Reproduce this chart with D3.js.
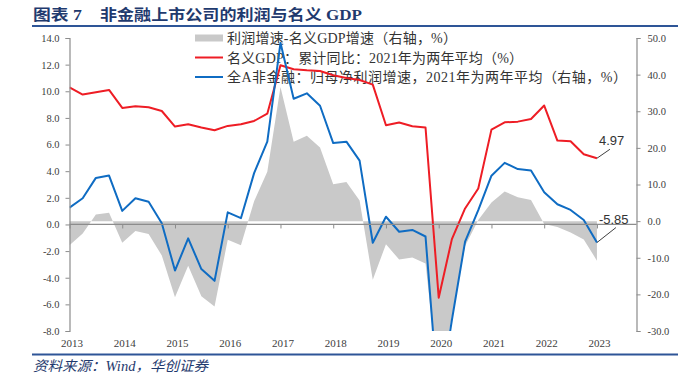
<!DOCTYPE html>
<html>
<head>
<meta charset="utf-8">
<script src="https://cdn.jsdelivr.net/npm/d3@7"></script>
<style>
  html, body { margin: 0; padding: 0; background: #fff; }
  svg { display: block; }
</style>
</head>
<body>
<svg id="chart" width="691" height="375"></svg>
<script>
// Years shown on the x axis (label at Q1 of each year)
const years = ['2013', '2014', '2015', '2016', '2017', '2018', '2019', '2020', '2021', '2022', '2023'];
const quarterNames = ['Q1', 'Q2', 'Q3', 'Q4'];

// Nominal GDP, cumulative YoY (%), left axis, 2013Q1..2023Q1
const nominalGdp = [
  10.30, 9.75, 9.92, 10.10, 8.75, 8.87, 8.80, 8.52, 7.35, 7.52,
  7.28, 7.07, 7.40, 7.52, 7.77, 8.32, 11.95, 11.65, 11.57, 11.52,
  11.20, 11.00, 10.85, 10.50, 7.45, 7.65, 7.37, 7.28, -5.50, -1.10,
  1.20, 2.70, 7.12, 7.67, 7.72, 7.92, 8.93, 6.30, 6.25, 5.27,
  4.97
];

// All-A non-financial net profit growth (%), right axis
const profitGrowth = [
  3.7, 6.25, 11.8, 12.45, 2.8, 6.25, 5.3, -0.6, -13.5, -4.7,
  -13.1, -16.3, 2.4, 0.8, 13.1, 21.7, 48.7, 33.4, 34.9, 31.5,
  21.3, 21.7, 16.5, -5.9, 1.2, -2.9, -2.4, -4.2, -50.0, -27.0,
  -5.6, 3.0, 12.4, 15.9, 14.2, 13.8, 7.9, 4.6, 3.05, 0.3,
  -5.85
];

// Profit growth minus nominal GDP growth (%), right axis, grey area
const spread = [
  -6.6, -3.4, 1.8, 2.3, -5.9, -2.7, -3.5, -9.4, -20.8, -12.2,
  -20.5, -23.3, -5.1, -6.6, 5.4, 13.5, 36.6, 21.7, 23.3, 20.1,
  10.1, 10.7, 5.6, -16.0, -6.3, -10.5, -9.9, -11.6, -44.5, -26.0,
  -6.8, 0.3, 5.1, 8.1, 6.5, 5.8, -0.8, -1.6, -3.1, -5.0,
  -10.8
];

const leftTicks = [-8, -6, -4, -2, 0, 2, 4, 6, 8, 10, 12, 14];
const rightTicks = [-30, -20, -10, 0, 10, 20, 30, 40, 50];

const legendLabels = [
  '利润增速-名义GDP增速（右轴，%）',
  '名义GDP：累计同比：2021年为两年平均（%）',
  '全A非金融：归母净利润增速，2021年为两年平均（右轴，%）'
];

// categories: every quarter of the axis, data covers the first 41
const quarters = [];
years.forEach(y => quarterNames.forEach(q => quarters.push(y + q)));

const serif = '"Liberation Serif", "Times New Roman", "Noto Sans CJK SC", serif';
const svg = d3.select('#chart');

const plot = { left: 69.5, right: 636.5, top: 38, bottom: 331 };

const x = d3.scalePoint().domain(quarters).range([plot.left, plot.right]);
const yLeft = d3.scaleLinear().domain([-8, 14]).range([plot.bottom, plot.top]);
const yRight = d3.scaleLinear().domain([-30, 50]).range([plot.bottom, plot.top]);

// plain hyphen for negatives, like the source chart
const fmt1 = d => d.toFixed(1);

const axisColor = '#8c8c8c';
const textColor = '#404040';
const navy = '#1f3a6e';

// Title and frame rules
svg.append('text')
  .attr('x', 33)
  .attr('y', 20)
  .attr('fill', navy)
  .style('font-family', serif)
  .style('font-weight', 'bold')
  .style('font-size', '15px')
  .attr('textLength', 49)
  .attr('lengthAdjust', 'spacingAndGlyphs')
  .text('图表 7');

svg.append('text')
  .attr('x', 100)
  .attr('y', 20)
  .attr('fill', navy)
  .style('font-family', serif)
  .style('font-weight', 'bold')
  .style('font-size', '15px')
  .attr('textLength', 262)
  .attr('lengthAdjust', 'spacingAndGlyphs')
  .text('非金融上市公司的利润与名义 GDP');

svg.append('line')
  .attr('x1', 32).attr('x2', 678)
  .attr('y1', 26).attr('y2', 26)
  .attr('stroke', '#2e5597')
  .attr('stroke-width', 2);

svg.append('line')
  .attr('x1', 32).attr('x2', 678)
  .attr('y1', 354.5).attr('y2', 354.5)
  .attr('stroke', '#2e5597')
  .attr('stroke-width', 2);

svg.append('text')
  .attr('x', 33)
  .attr('y', 371)
  .attr('fill', navy)
  .style('font-family', serif)
  .style('font-style', 'italic')
  .style('font-size', '14px')
  .attr('textLength', 175)
  .attr('lengthAdjust', 'spacingAndGlyphs')
  .text('资料来源：Wind，华创证券');

// Legend (drawn under the series, as in the reference)
const legend = svg.append('g');
const legendY = [38, 57.5, 77];
const legendLen = [230, 296, 400];

legend.append('rect')
  .attr('x', 195).attr('y', legendY[0] - 3.5)
  .attr('width', 28).attr('height', 7)
  .attr('fill', '#c9c9c9');
legend.append('line')
  .attr('x1', 195).attr('x2', 223)
  .attr('y1', legendY[1]).attr('y2', legendY[1])
  .attr('stroke', '#ee1d25').attr('stroke-width', 2);
legend.append('line')
  .attr('x1', 195).attr('x2', 223)
  .attr('y1', legendY[2]).attr('y2', legendY[2])
  .attr('stroke', '#0f6cc3').attr('stroke-width', 2);

legendLabels.forEach((label, i) => {
  legend.append('text')
    .attr('x', 227)
    .attr('y', legendY[i] + 5)
    .attr('fill', '#333')
    .style('font-family', serif)
    .style('font-size', '14px')
    .attr('textLength', legendLen[i])
    .attr('lengthAdjust', 'spacing')
    .text(label);
});

// Clip the series to the plot area
svg.append('defs')
  .append('clipPath')
  .attr('id', 'plot-clip')
  .append('rect')
  .attr('x', plot.left)
  .attr('y', plot.top)
  .attr('width', plot.right - plot.left)
  .attr('height', plot.bottom - plot.top);

const series = svg.append('g').attr('clip-path', 'url(#plot-clip)');

// Grey area: spread, from the right-axis zero
const area = d3.area()
  .x((d, i) => x(quarters[i]))
  .y0(yRight(0))
  .y1(d => yRight(d));

series.append('path')
  .datum(spread)
  .attr('d', area)
  .attr('fill', '#c9c9c9');

// Axes
const leftAxis = svg.append('g')
  .attr('transform', `translate(${plot.left},0)`)
  .call(d3.axisLeft(yLeft).tickValues(leftTicks).tickFormat(fmt1).tickSizeOuter(0).tickSize(4).tickPadding(6));

const rightAxis = svg.append('g')
  .attr('transform', `translate(${plot.right},0)`)
  .call(d3.axisRight(yRight).tickValues(rightTicks).tickFormat(fmt1).tickSizeOuter(0).tickSize(4).tickPadding(7));

// x axis line sits on the left-axis zero, labels at the bottom
const xAxis = svg.append('g')
  .attr('transform', `translate(0,${yLeft(0)})`)
  .call(d3.axisBottom(x)
    .tickValues(years.map(y => y + 'Q1'))
    .tickSize(4)
    .tickSizeOuter(0)
    .tickFormat(''));

xAxis.select('.domain').attr('d', `M${plot.left},0H${plot.right}`);

svg.append('g')
  .selectAll('text')
  .data(years)
  .join('text')
  .attr('x', d => x(d + 'Q1') + 2.5)
  .attr('y', 347)
  .attr('text-anchor', 'middle')
  .attr('fill', textColor)
  .style('font-family', serif)
  .style('font-size', '11px')
  .text(d => d);

[leftAxis, rightAxis, xAxis].forEach(g => {
  g.select('.domain').attr('stroke', axisColor).attr('stroke-width', 1.2);
  g.selectAll('.tick line').attr('stroke', axisColor);
  g.selectAll('.tick text')
    .attr('fill', textColor)
    .style('font-family', serif)
    .style('font-size', '10.5px');
});

// Lines
const dataIndex = nominalGdp.map((d, i) => i);

const redLine = d3.line()
  .x(i => x(quarters[i]))
  .y(i => yLeft(nominalGdp[i]));

const blueLine = d3.line()
  .x(i => x(quarters[i]))
  .y(i => yRight(profitGrowth[i]));

series.append('path')
  .datum(dataIndex)
  .attr('d', redLine)
  .attr('fill', 'none')
  .attr('stroke', '#ee1d25')
  .attr('stroke-width', 2)
  .attr('stroke-linejoin', 'round');

series.append('path')
  .datum(dataIndex)
  .attr('d', blueLine)
  .attr('fill', 'none')
  .attr('stroke', '#0f6cc3')
  .attr('stroke-width', 2)
  .attr('stroke-linejoin', 'round');

// Last value call-outs
const last = nominalGdp.length - 1;
const lx = x(quarters[last]);
const callouts = [
  { y: yLeft(nominalGdp[last]), value: nominalGdp[last], dx: 13, dy: -9 },
  { y: yRight(profitGrowth[last]), value: profitGrowth[last], dx: 19, dy: -15 }
];

callouts.forEach(c => {
  svg.append('line')
    .attr('x1', lx).attr('y1', c.y)
    .attr('x2', lx + c.dx).attr('y2', c.y + c.dy)
    .attr('stroke', '#404040')
    .attr('stroke-width', 1);

  svg.append('text')
    .attr('x', lx + 2)
    .attr('y', c.y + c.dy - 4)
    .attr('fill', '#333')
    .style('font-family', '"Liberation Sans", Arial, sans-serif')
    .style('font-size', '13px')
    .text(c.value.toFixed(2));
});
</script>
</body>
</html>
